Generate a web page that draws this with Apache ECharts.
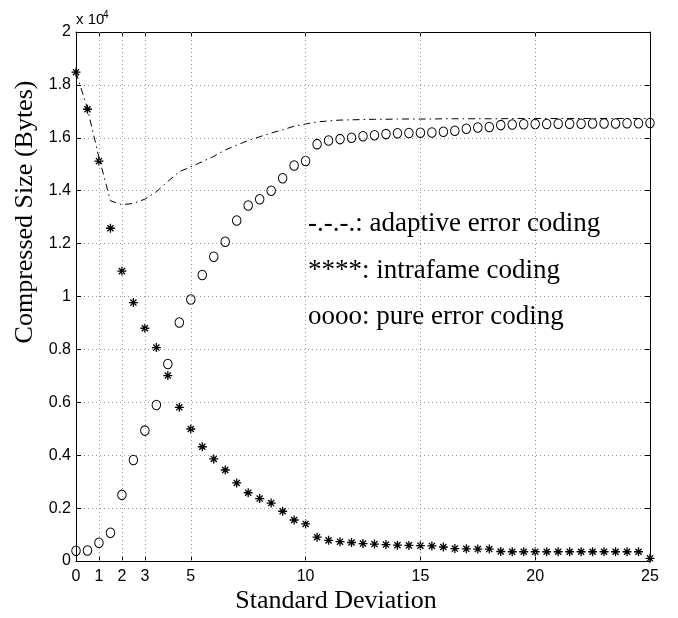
<!DOCTYPE html>
<html>
<head>
<meta charset="utf-8">
<script src="https://cdn.jsdelivr.net/npm/echarts@6/dist/echarts.min.js"></script>
<style>html,body{margin:0;padding:0;background:#fff;}#c{width:678px;height:618px;}</style>
</head>
<body>
<div id="c"></div>
<script>
// Standard deviation values (x)
var stdDev = [0,0.5,1,1.5,2,2.5,3,3.5,4,4.5,5,5.5,6,6.5,7,7.5,8,8.5,9,9.5,10,10.5,11,11.5,12,12.5,13,13.5,14,14.5,15,15.5,16,16.5,17,17.5,18,18.5,19,19.5,20,20.5,21,21.5,22,22.5,23,23.5,24,24.5,25];
// Compressed size (x 10^4 bytes)
var adaptiveCoding = [1.848,1.710,1.525,1.362,1.347,1.352,1.368,1.396,1.435,1.472,1.490,1.510,1.530,1.554,1.572,1.590,1.604,1.618,1.630,1.644,1.652,1.660,1.664,1.667,1.668,1.669,1.670,1.670,1.671,1.671,1.671,1.671,1.672,1.672,1.672,1.672,1.672,1.672,1.673,1.673,1.673,1.673,1.673,1.673,1.673,1.673,1.673,1.673,1.673,1.673,1.673];
var intraframeCoding = [1.848,1.708,1.512,1.258,1.096,0.977,0.880,0.807,0.701,0.581,0.499,0.432,0.386,0.344,0.295,0.258,0.236,0.219,0.188,0.155,0.140,0.090,0.078,0.073,0.070,0.066,0.064,0.062,0.060,0.059,0.058,0.057,0.053,0.047,0.046,0.045,0.045,0.036,0.035,0.035,0.035,0.035,0.035,0.035,0.035,0.035,0.035,0.035,0.035,0.035,0.010];
var pureErrorCoding = [0.039,0.040,0.069,0.107,0.250,0.382,0.493,0.590,0.745,0.902,0.989,1.081,1.150,1.207,1.287,1.344,1.368,1.400,1.447,1.495,1.512,1.576,1.590,1.595,1.600,1.606,1.610,1.614,1.617,1.618,1.619,1.620,1.623,1.627,1.634,1.639,1.641,1.648,1.650,1.651,1.652,1.652,1.653,1.653,1.653,1.654,1.654,1.654,1.655,1.655,1.656];
// Tick labels
var xTicks = [0,1,2,3,5,10,15,20,25];
var xGridLines = [1,2,3,5,10,15,20];
var xTitle = 'Standard Deviation';
var yTitle = 'Compressed Size (Bytes)';
var legendLines = ['-.-.-.: adaptive error coding', '****: intrafame coding', 'oooo: pure error coding'];

function pairs(xs, ys){ return xs.map(function(x,i){ return [x, ys[i]]; }); }

var serif = '"Liberation Serif","Times New Roman",serif';
var sans = '"Liberation Sans",Arial,sans-serif';
var asterisk = 'path://M5 0L5 10M0 5L10 5M1.6 1.6L8.4 8.4M8.4 1.6L1.6 8.4';

var chart = echarts.init(document.getElementById('c'), null, {renderer:'canvas'});
chart.setOption({
  backgroundColor: '#fff',
  animation: false,
  grid: {left: 76, right: 28, top: 32, bottom: 57, show: false},
  xAxis: [{
    type: 'value', min: 0, max: 25, position: 'bottom',
    axisLine: {show: true, onZero: false, lineStyle: {color: '#000', width: 1}},
    axisTick: {show: true, inside: true, length: 5, customValues: xTicks, lineStyle: {color: '#000'}},
    axisLabel: {show: true, customValues: xTicks, fontFamily: sans, fontSize: 16, color: '#000', margin: 8},
    splitLine: {show: false}
  }, {
    type: 'value', min: 0, max: 25, position: 'top',
    axisLine: {show: true, onZero: false, lineStyle: {color: '#000', width: 1}},
    axisTick: {show: true, inside: true, length: 5, customValues: xTicks, lineStyle: {color: '#000'}},
    axisLabel: {show: false},
    splitLine: {show: false}
  }],
  yAxis: [{
    type: 'value', min: 0, max: 2, interval: 0.2, position: 'left',
    axisLine: {show: true, onZero: false, lineStyle: {color: '#000', width: 1}},
    axisTick: {show: true, inside: true, length: 5, lineStyle: {color: '#000'}},
    axisLabel: {fontFamily: sans, fontSize: 16, color: '#000', margin: 5,
      formatter: function(v){ return String(Math.round(v*10)/10); }},
    splitLine: {show: true, lineStyle: {color: '#999', type: [1,3], width: 1}}
  }, {
    type: 'value', min: 0, max: 2, interval: 0.2, position: 'right',
    axisLine: {show: true, onZero: false, lineStyle: {color: '#000', width: 1}},
    axisTick: {show: true, inside: true, length: 5, lineStyle: {color: '#000'}},
    axisLabel: {show: false},
    splitLine: {show: false}
  }],
  graphic: [
    {type: 'text', x: 76, y: 27, style: {text: 'x 10', fontFamily: sans, fontSize: 15, fill: '#000', verticalAlign: 'bottom'}},
    {type: 'text', x: 103, y: 20, style: {text: '4', fontFamily: sans, fontSize: 10, fill: '#000', verticalAlign: 'bottom'}},
    {type: 'text', x: 336, y: 601, style: {text: xTitle, fontFamily: serif, fontSize: 26, fill: '#000', align: 'center', verticalAlign: 'middle'}},
    {type: 'text', x: 25, y: 212, rotation: Math.PI/2, style: {text: yTitle, fontFamily: serif, fontSize: 26, fill: '#000', align: 'center', verticalAlign: 'middle'}},
    {type: 'text', x: 308, y: 224, style: {text: legendLines[0], fontFamily: serif, fontSize: 27, fill: '#000', verticalAlign: 'middle'}},
    {type: 'text', x: 308, y: 271, style: {text: legendLines[1], fontFamily: serif, fontSize: 27, fill: '#000', verticalAlign: 'middle'}},
    {type: 'text', x: 308, y: 317, style: {text: legendLines[2], fontFamily: serif, fontSize: 27, fill: '#000', verticalAlign: 'middle'}}
  ],
  series: [{
    name: 'grid', type: 'line', data: [], silent: true,
    markLine: {silent: true, symbol: ['none','none'], label: {show: false},
      lineStyle: {color: '#999', type: [1,3], width: 1},
      data: xGridLines.map(function(v){ return {xAxis: v}; })}
  }, {
    name: 'adaptive error coding', type: 'line', data: pairs(stdDev, adaptiveCoding),
    showSymbol: false, smooth: false, z: 3,
    lineStyle: {color: '#000', width: 1, type: [7,4,1.5,4]}
  }, {
    name: 'intrafame coding', type: 'scatter', data: pairs(stdDev, intraframeCoding),
    symbol: asterisk, symbolSize: 9, z: 4,
    itemStyle: {color: 'rgba(0,0,0,0)', borderColor: '#000', borderWidth: 1.3, opacity: 1}
  }, {
    name: 'pure error coding', type: 'scatter', data: pairs(stdDev, pureErrorCoding),
    symbol: 'circle', symbolSize: [8.5,9.5], z: 4,
    itemStyle: {color: 'rgba(0,0,0,0)', borderColor: '#000', borderWidth: 1, opacity: 1}
  }]
});
</script>
</body>
</html>
